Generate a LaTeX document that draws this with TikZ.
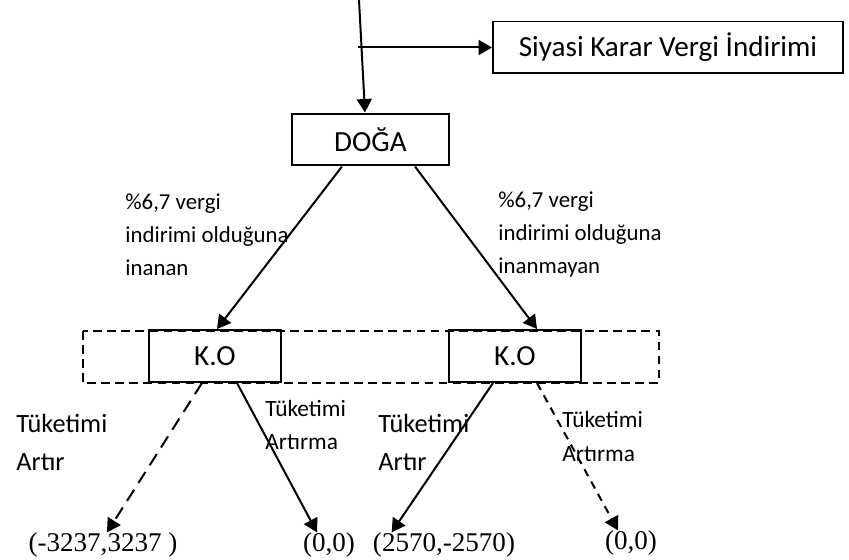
\documentclass[tikz,border=0pt]{standalone}
\usepackage{fontspec}
\setmainfont{Carlito}
\newfontfamily\payfont{Liberation Serif}
\usetikzlibrary{calc}
\usetikzlibrary{arrows.meta}

\tikzset{
  box/.style={draw, line width=0.04cm, inner sep=0pt, minimum height=1.04cm,
    font=\fontsize{16.6}{20}\selectfont},
  lbl/.style={anchor=west, inner sep=0pt, align=left},
  pay/.style={inner sep=0pt, font=\payfont\fontsize{15.4}{18}\selectfont},
  arr/.style={line width=0.04cm, -{Triangle[length=0.27cm,width=0.3cm]}},
}

\begin{document}
\begin{tikzpicture}[x=0.02cm, y=-0.02cm]
        \useasboundingbox (0,0) rectangle (849,560);

        % Boxes
        \node [box, minimum width=7.0cm] (siyasi) at (668,47.5) {Siyasi Karar Vergi İndirimi};
        \node [box, minimum width=3.14cm] (doga) at (370.5,139.5) {DOĞA};
        \node [box, minimum width=2.64cm] (k1) at (215,356) {K.O};
        \node [box, minimum width=2.64cm] (k2) at (515,356) {K.O};

        % Information set
        \draw [line width=0.03cm, dash pattern=on 5pt off 3pt] (83,331) rectangle (659,383);

        % Payoffs
        \node [pay] (p1) at (103,545) {(-3237,3237 )};
        \node [pay] (p2) at (329,545) {(0,0)};
        \node [pay] (p3) at (444,545) {(2570,-2570)};
        \node [pay] (p4) at (631,543) {(0,0)};

        % Labels
        {\fontsize{13}{18.7}\selectfont
        \node [lbl] (inanan) at (125,234.5) {\%6,7 vergi\\indirimi olduğuna\\inanan};
        \node [lbl] (inanmayan) at (498,234.5) {\%6,7 vergi\\indirimi olduğuna\\inanmayan};
        }
        {\fontsize{15}{22}\selectfont
        \node [lbl] (artir1) at (16,442.5) {Tüketimi\\Artır};
        \node [lbl] (artir2) at (378,442.5) {Tüketimi\\Artır};
        }
        {\fontsize{13.3}{19.3}\selectfont
        \node [lbl] (artirma1) at (265,425) {Tüketimi\\Artırma};
        \node [lbl] (artirma2) at (562,436.5) {Tüketimi\\Artırma};
        }

        % Top decision
        \coordinate (top) at (359,0);
        \coordinate (split) at (358,47.5);
        \draw [arr] (top) -- ($(doga.north)+(-5.5,0)$);
        \draw [arr] (split) -- (siyasi.west);

        % Nature's moves
        \draw [arr] ($(doga.south)+(-28.5,0)$) -- ($(k1.north)+(2,0)$);
        \draw [arr] ($(doga.south)+(44.5,0)$) -- ($(k2.north)+(22,0)$);

        % Consumer moves
        \draw [arr, dash pattern=on 7.5pt off 4.5pt] ($(k1.south)+(-13,0)$) -- ($(p1.north)+(4,0)$);
        \draw [arr] ($(k1.south)+(22,0)$) -- ($(p2.north)+(-12,0)$);
        \draw [arr] ($(k2.south)+(-22,0)$) -- ($(p3.north west)+(19,0)$);
        \draw [arr, dash pattern=on 4.5pt off 3.5pt] ($(k2.south)+(22,0)$) -- ($(p4.north)+(-13,0)$);
\end{tikzpicture}
\end{document}
